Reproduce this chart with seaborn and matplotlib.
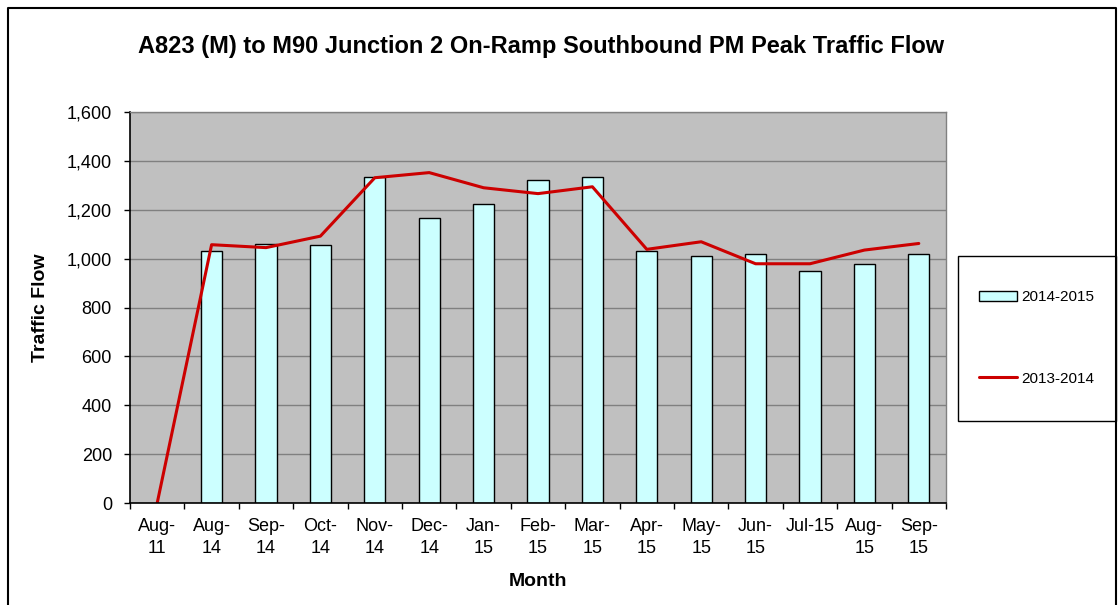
import matplotlib
matplotlib.use("Agg")
import matplotlib.pyplot as plt
from matplotlib.patches import Patch, Rectangle
from matplotlib.lines import Line2D
from matplotlib.ticker import FuncFormatter
import seaborn as sns
import pandas as pd
import numpy as np

# data
months = ["Aug-11", "Aug-14", "Sep-14", "Oct-14", "Nov-14", "Dec-14", "Jan-15", "Feb-15",
          "Mar-15", "Apr-15", "May-15", "Jun-15", "Jul-15", "Aug-15", "Sep-15"]
tick_labels = ["Aug-\n11", "Aug-\n14", "Sep-\n14", "Oct-\n14", "Nov-\n14", "Dec-\n14", "Jan-\n15",
               "Feb-\n15", "Mar-\n15", "Apr-\n15", "May-\n15", "Jun-\n15", "Jul-15", "Aug-\n15", "Sep-\n15"]
flow_2014_2015 = [np.nan, 1030, 1061, 1054, 1334, 1167, 1225, 1320, 1334, 1030, 1010, 1017, 951, 980, 1017]
flow_2013_2014 = [0, 1057, 1045, 1092, 1331, 1352, 1290, 1266, 1294, 1038, 1069, 979, 979, 1035, 1062]

sns.set_style("white")
plt.rcParams['font.family'] = ['Liberation Sans', 'DejaVu Sans']
plt.rcParams['text.color'] = 'black'
plt.rcParams['axes.labelcolor'] = 'black'
plt.rcParams['xtick.color'] = 'black'
plt.rcParams['ytick.color'] = 'black'

bar_color = '#CCFFFF'
line_color = '#CC0000'

df = pd.DataFrame({'month': months, 'flow': flow_2014_2015})

fig = plt.figure(figsize=(11.2, 6.05), dpi=100)
ax = fig.add_axes([130 / 1120, 1 - 503 / 605, (946 - 130) / 1120, (503 - 112) / 605])

sns.barplot(data=df, x='month', y='flow', order=months, color=bar_color, saturation=1,
            width=0.39, edgecolor='black', linewidth=1, errorbar=None, ax=ax)
sns.lineplot(x=np.arange(len(months)), y=flow_2013_2014, color=line_color, linewidth=2.2, ax=ax)

# axes styling (excel look)
ax.set_facecolor('#C0C0C0')
ax.set_xlim(-0.5, len(months) - 0.5)
ax.set_ylim(0, 1600)
ax.set_yticks(range(0, 1601, 200))
ax.yaxis.set_major_formatter(FuncFormatter(lambda v, p: f'{int(v):,}'))
ax.set_xticks(range(len(months)))
ax.set_xticklabels(tick_labels)
for lab in ax.get_xticklabels():
    lab.set_linespacing(1.4)
ax.set_xticks(np.arange(-0.5, len(months), 1), minor=True)
ax.tick_params(axis='x', which='major', length=0, pad=11, labelsize=13)
ax.tick_params(axis='x', which='minor', length=4, width=1, direction='out', color='black', bottom=True)
ax.tick_params(axis='y', length=4, width=1, direction='out', color='black', left=True, pad=9, labelsize=13)
ax.grid(axis='y', color='#808080', linewidth=1)
ax.set_axisbelow(True)
for s in ['left', 'bottom']:
    ax.spines[s].set_color('black')
    ax.spines[s].set_linewidth(1.2)
for s in ['top', 'right']:
    ax.spines[s].set_color('#808080')
    ax.spines[s].set_linewidth(1)

ax.set_xlabel('Month', fontsize=14, fontweight='bold', labelpad=11)
ax.set_ylabel('Traffic Flow', fontsize=14, fontweight='bold', labelpad=13)

fig.text(541 / 1120, 1 - 46 / 605, 'A823 (M) to M90 Junction 2 On-Ramp Southbound PM Peak Traffic Flow',
         ha='center', va='center', fontsize=17, fontweight='bold')

# outer chart border
fig.add_artist(Line2D([8 / 1120, 8 / 1120, 1116 / 1120, 1116 / 1120],
                      [0, 1 - 8 / 605, 1 - 8 / 605, 0], color='black', linewidth=1.5,
                      transform=fig.transFigure))

# legend box
fig.add_artist(Rectangle((958 / 1120, 1 - 421 / 605), (1116 - 958) / 1120, (421 - 256) / 605,
                         transform=fig.transFigure, facecolor='white', edgecolor='black', linewidth=1))
handles = [Patch(facecolor=bar_color, edgecolor='black', linewidth=1),
           Line2D([0], [0], color=line_color, linewidth=2.2)]
fig.legend(handles, ['2014-2015', '2013-2014'], loc='center left',
           bbox_to_anchor=(965 / 1120, 1 - 338 / 605), frameon=False, fontsize=11,
           handlelength=2.5, handleheight=0.6, handletextpad=0.26, labelspacing=4.4)

fig.savefig('out.png', dpi=100)
